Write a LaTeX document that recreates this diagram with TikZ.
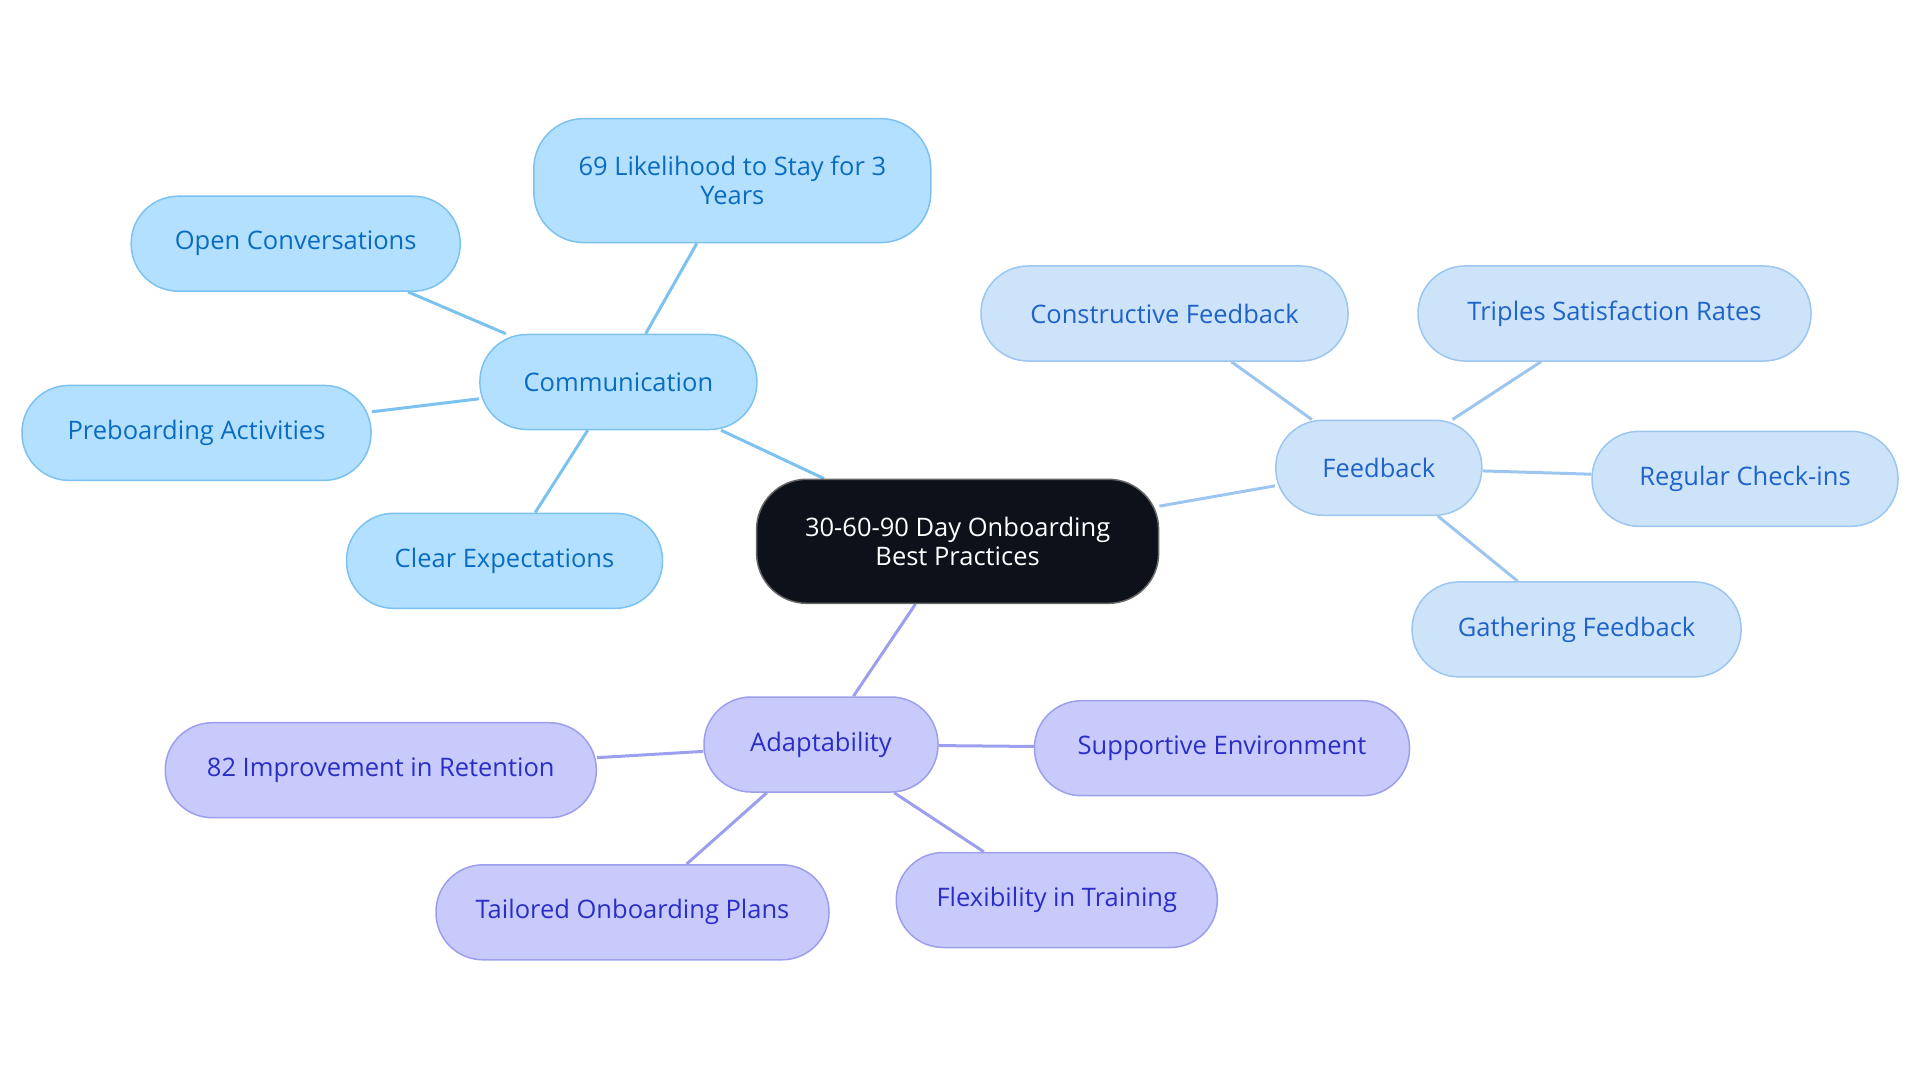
\documentclass[tikz,border=0pt]{standalone}
\usepackage{fontspec}
\setsansfont{Open Sans}
\renewcommand\familydefault{\sfdefault}
\usetikzlibrary{positioning,backgrounds}

\definecolor{rootfill}{HTML}{0C111A}
\definecolor{commfill}{HTML}{B3E0FF}
\definecolor{commline}{HTML}{7CC2F0}
\definecolor{commtext}{HTML}{0A6CC0}
\definecolor{feedfill}{HTML}{CCE3FA}
\definecolor{feedline}{HTML}{9CC6F0}
\definecolor{feedtext}{HTML}{1F62C8}
\definecolor{adapfill}{HTML}{C8CAFC}
\definecolor{adapline}{HTML}{9C9EEE}
\definecolor{adaptext}{HTML}{2A2EC6}

\tikzset{
  pill/.style={rectangle, rounded corners=47pt, minimum height=95pt, line width=1.5pt,
    font=\fontsize{25.5}{29.5}\selectfont, align=center, inner sep=0pt},
  rootpill/.style={pill, fill=rootfill, draw=black!60, text=white, minimum height=124pt, rounded corners=50pt},
  commpill/.style={pill, fill=commfill, draw=commline, text=commtext},
  feedpill/.style={pill, fill=feedfill, draw=feedline, text=feedtext},
  adappill/.style={pill, fill=adapfill, draw=adapline, text=adaptext},
  commedge/.style={draw=commline, line width=3pt},
  feededge/.style={draw=feedline, line width=3pt},
  adapedge/.style={draw=adapline, line width=3pt},
}

\begin{document}
\begin{tikzpicture}[x=1pt, y=-1pt]
  \useasboundingbox (0,0) rectangle (1920,1083);

  % centre
  \node[rootpill, minimum width=402pt] (root) at (957.6,541.3) {30-60-90 Day Onboarding\\Best Practices};

  % communication branch
  \node[commpill, minimum width=277pt] (comm) at (618.4,382) {Communication};
  \node[commpill, minimum width=397pt, minimum height=124pt, rounded corners=50pt] (likely) at (732.3,180.6) {69 Likelihood to Stay for 3\\Years};
  \node[commpill, minimum width=329pt] (openconv) at (295.7,243.7) {Open Conversations};
  \node[commpill, minimum width=349pt] (preboard) at (196.5,432.9) {Preboarding Activities};
  \node[commpill, minimum width=316pt] (clearexp) at (504.5,560.8) {Clear Expectations};

  % feedback branch
  \node[feedpill, minimum width=206pt] (feed) at (1378.8,467.8) {Feedback};
  \node[feedpill, minimum width=367pt] (construct) at (1164.5,313.5) {Constructive Feedback};
  \node[feedpill, minimum width=393pt] (triples) at (1614.5,313.5) {Triples Satisfaction Rates};
  \node[feedpill, minimum width=306pt] (checkins) at (1745,478.8) {Regular Check-ins};
  \node[feedpill, minimum width=329pt] (gather) at (1576.6,629.4) {Gathering Feedback};

  % adaptability branch
  \node[adappill, minimum width=234pt] (adapt) at (821,744.5) {Adaptability};
  \node[adappill, minimum width=375pt] (support) at (1222,748.2) {Supportive Environment};
  \node[adappill, minimum width=431pt] (improve) at (380.8,770.2) {82 Improvement in Retention};
  \node[adappill, minimum width=393pt] (tailored) at (632.5,912.3) {Tailored Onboarding Plans};
  \node[adappill, minimum width=321pt] (flexible) at (1056.8,900) {Flexibility in Training};

  \begin{pgfonlayer}{background}
    \path[commedge] (root) -- (comm);
    \foreach \n in {likely,openconv,preboard,clearexp}
      \path[commedge] (comm) -- (\n);
    \path[feededge] (root) -- (feed);
    \foreach \n in {construct,triples,checkins,gather}
      \path[feededge] (feed) -- (\n);
    \path[adapedge] (root) -- (adapt);
    \foreach \n in {support,improve,tailored,flexible}
      \path[adapedge] (adapt) -- (\n);
  \end{pgfonlayer}
\end{tikzpicture}
\end{document}
